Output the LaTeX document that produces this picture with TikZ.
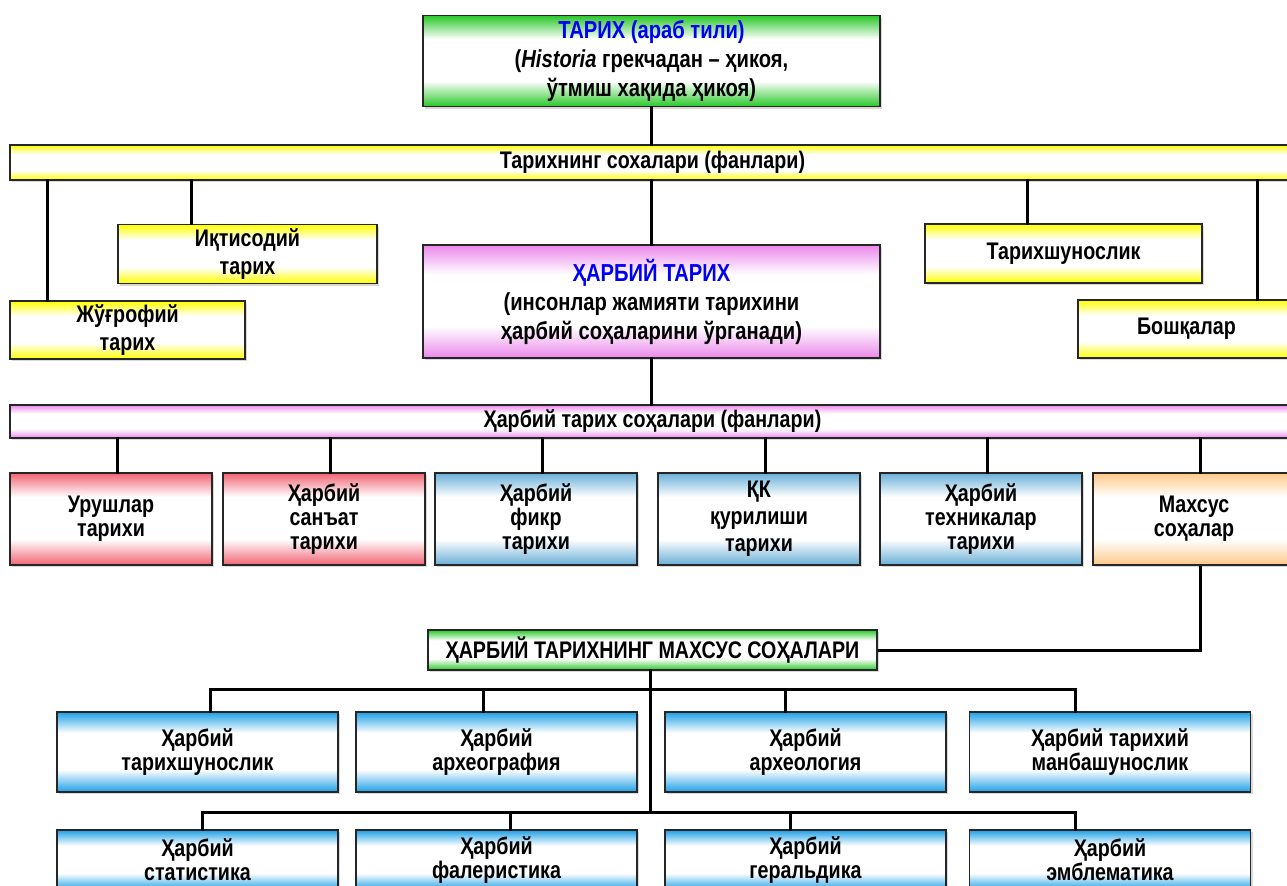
\documentclass[tikz,border=0pt]{standalone}
\usepackage{fontspec}
\setmainfont{Liberation Sans}[FakeStretch=0.82]
\usetikzlibrary{positioning, calc, shadows}
\definecolor{hgreen}{RGB}{40,200,40}
\definecolor{hyellow}{RGB}{255,255,0}
\definecolor{hpink}{RGB}{235,135,235}
\definecolor{hred}{RGB}{240,100,115}
\definecolor{hsteel}{RGB}{105,175,215}
\definecolor{hpeach}{RGB}{255,200,135}
\definecolor{hcyan}{RGB}{30,160,230}
\definecolor{htitle}{RGB}{0,0,240}
% colour only at the top and bottom edge, white in between
\newcommand\edgeshading[2]{%
  \pgfdeclareverticalshading{#1}{100bp}{color(0bp)=(#2); color(25bp)=(#2);
    color(39bp)=(white); color(62bp)=(white); color(75bp)=(#2); color(100bp)=(#2)}}
\edgeshading{shgreen}{hgreen}
\edgeshading{shyellow}{hyellow}
\edgeshading{shpink}{hpink}
\edgeshading{shred}{hred}
\edgeshading{shsteel}{hsteel}
\edgeshading{shpeach}{hpeach}
\edgeshading{shcyan}{hcyan}
\tikzset{
  box/.style={
    rectangle, draw=black!85, line width=0.9pt, align=center, inner sep=1pt,
    font=\bfseries\fontsize{12}{12}\selectfont,
    drop shadow={shadow xshift=1pt, shadow yshift=-1pt, opacity=0.3}
  },
  bigtext/.style={font=\bfseries\fontsize{12.3}{14.5}\selectfont},
  greenbox/.style={box, shading=shgreen},
  yellowbox/.style={box, shading=shyellow, font=\bfseries\fontsize{12}{14}\selectfont},
  pinkbox/.style={box, shading=shpink},
  redbox/.style={box, shading=shred, minimum width=101pt, minimum height=46pt},
  steelbox/.style={box, shading=shsteel, minimum width=101pt, minimum height=46pt},
  peachbox/.style={box, shading=shpeach, minimum width=101pt, minimum height=46pt},
  cyanbox/.style={box, shading=shcyan, minimum width=140.5pt},
  link/.style={line width=1.5pt, black, line cap=rect}
}
\begin{document}
\begin{tikzpicture}[x=0.5pt, y=-0.5pt]
    \clip (0,0) rectangle (1287,885);
    % main node and the first bar
    \node[greenbox, bigtext, minimum width=228.5pt, minimum height=45.5pt] (tarix) at (651.5,61)
      {\textcolor{htitle}{ТАРИХ (араб тили)}\\(\textit{Historia} грекчадан – ҳикоя,\\ўтмиш хақида ҳикоя)};
    \node[box, shading=shyellow, minimum width=642.5pt, minimum height=17.5pt] (soha) at (652.5,162.5)
      {Тарихнинг сохалари (фанлари)};
    \node[yellowbox, minimum width=129.5pt, minimum height=29.5pt] (iqt) at (247.5,254) {Иқтисодий\\тарих};
    \node[yellowbox, minimum width=117.5pt, minimum height=29pt] (jugr) at (127.5,330) {Жўғрофий\\тарих};
    \node[yellowbox, minimum width=138.5pt, minimum height=29.5pt] (tsh) at (1063.5,253.5) {Тарихшунослик};
    \node[yellowbox, minimum width=108.5pt, minimum height=29pt] (bosh) at (1186.5,329) {Бошқалар};
    \node[pinkbox, bigtext, minimum width=228.5pt, minimum height=56.5pt] (harb) at (651.5,301.5)
      {\textcolor{htitle}{ҲАРБИЙ ТАРИХ}\\(инсонлар жамияти тарихини\\ҳарбий соҳаларини ўрганади)};
    \node[pinkbox, minimum width=642.5pt, minimum height=16.5pt] (hsoha) at (652.5,421.5)
      {Ҳарбий тарих соҳалари (фанлари)};
    % branches of military history
    \node[redbox] (urush) at (111,519) {Урушлар\\тарихи};
    \node[redbox] (sanat) at (324,519) {Ҳарбий\\санъат\\тарихи};
    \node[steelbox] (fikr) at (536,519) {Ҳарбий\\фикр\\тарихи};
    \node[steelbox] (qk) at (759,519) {ҚК\\[1.5pt]қурилиши\\[1.5pt]тарихи};
    \node[steelbox] (texn) at (981,519) {Ҳарбий\\техникалар\\тарихи};
    \node[peachbox] (maxsus) at (1194,519) {Махсус\\соҳалар};
    % special branches
    \node[greenbox, minimum width=224.5pt, minimum height=20pt] (mxs) at (652.5,650)
      {ҲАРБИЙ ТАРИХНИНГ МАХСУС СОҲАЛАРИ};
    \node[cyanbox, minimum height=40pt] (hts) at (197.5,752) {Ҳарбий\\тарихшунослик};
    \node[cyanbox, minimum height=40pt] (hag) at (496.5,752) {Ҳарбий\\археография};
    \node[cyanbox, minimum height=40pt] (hal) at (805.5,752) {Ҳарбий\\археология};
    \node[cyanbox, minimum height=40pt] (hmb) at (1110,752) {Ҳарбий тарихий\\манбашунослик};
    \node[cyanbox, minimum height=30pt] (hst) at (197.5,860) {Ҳарбий\\статистика};
    \node[cyanbox, minimum height=30pt] (hfl) at (496.5,860) {Ҳарбий\\фалеристика};
    \node[cyanbox, minimum height=30pt] (hge) at (805.5,860) {Ҳарбий\\геральдика};
    \node[cyanbox, minimum height=30pt] (hem) at (1110,860) {Ҳарбий\\эмблематика};
    % connectors
    \draw[link] (tarix.south) -- (tarix.south |- soha.north);
    \draw[link] (harb.north) -- (harb.north |- soha.south);
    \draw[link] (harb.south) -- (harb.south |- hsoha.north);
    \foreach \x/\n in {47/jugr, 191/iqt, 1027/tsh, 1257/bosh}{
      \coordinate (c\n) at (\x,162);
      \draw[link] (c\n |- soha.south) -- (c\n |- \n.north);
    }
    \foreach \n in {urush, sanat, fikr, qk, texn, maxsus}
      \draw[link] ([xshift=3pt]\n.north) -- ([xshift=3pt]\n.north |- hsoha.south);
    \draw[link, line cap=butt] ([xshift=3pt]maxsus.south) |- (mxs.east);
    \coordinate (trunk) at (650,812);
    \draw[link] (mxs.south -| trunk) -- (trunk);
    \foreach \x/\n in {210/hts, 483/hag, 785/hal, 1075/hmb}{
      \coordinate (a\n) at (\x,689);
      \draw[link] (a\n) -- (a\n |- \n.north);
    }
    \draw[link] (ahts) -- (ahmb);
    \foreach \x/\n in {202/hst, 510/hfl, 790/hge, 1075/hem}{
      \coordinate (b\n) at (\x,812);
      \draw[link] (b\n) -- (b\n |- \n.north);
    }
    \draw[link] (bhst) -- (bhem);
\end{tikzpicture}
\end{document}
